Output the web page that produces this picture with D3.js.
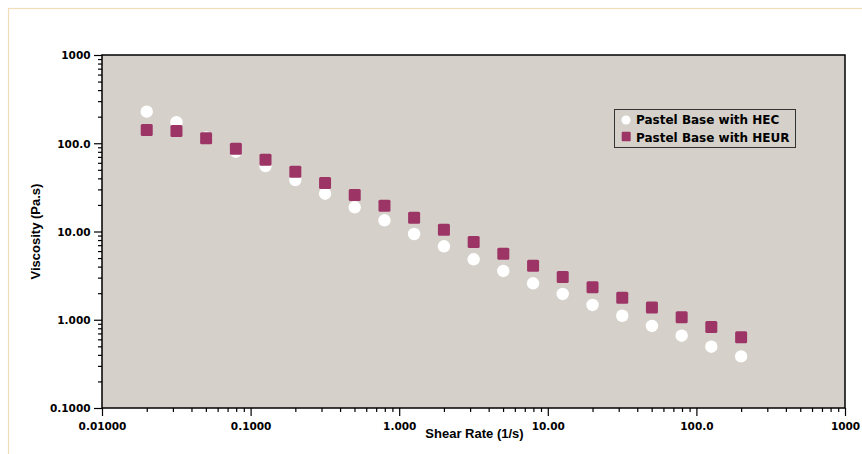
<!DOCTYPE html>
<html>
<head>
<meta charset="utf-8">
<script src="https://cdn.jsdelivr.net/npm/d3@7/dist/d3.min.js"></script>
<style>
  html, body { margin: 0; padding: 0; background: #ffffff; }
  svg { display: block; }
</style>
</head>
<body>
<svg id="chart" width="862" height="454"></svg>
<script>
// ---- data ----
const shearRate = [0.0200, 0.0317, 0.0502, 0.0796, 0.126, 0.200, 0.317, 0.502, 0.796, 1.26, 2.00,
                   3.17, 5.02, 7.96, 12.6, 20.0, 31.7, 50.2, 79.6, 126, 200];
const viscosityHEC = [228, 173, 116, 80.2, 55.2, 38.3, 26.8, 18.8, 13.4, 9.37, 6.80,
                      4.84, 3.57, 2.59, 1.96, 1.47, 1.11, 0.850, 0.659, 0.495, 0.385];
const viscosityHEUR = [141, 138, 114, 86.8, 65.1, 47.6, 35.5, 25.9, 19.6, 14.3, 10.5,
                       7.60, 5.60, 4.10, 3.05, 2.33, 1.78, 1.38, 1.07, 0.828, 0.632];
const seriesNames = ["Pastel Base with HEC", "Pastel Base with HEUR"];
const xTickValues = [0.01, 0.1, 1, 10, 100, 1000];
const xTickLabels = ["0.01000", "0.1000", "1.000", "10.00", "100.0", "1000"];
const yTickValues = [0.1, 1, 10, 100, 1000];
const yTickLabels = ["0.1000", "1.000", "10.00", "100.0", "1000"];
const xTitle = "Shear Rate (1/s)";
const yTitle = "Viscosity (Pa.s)";

// ---- layout ----
const svg = d3.select("#chart");
const pLeft = 102, pRight = 845, pTop = 55, pBottom = 408;
const x = d3.scaleLog().domain([0.01, 1000]).range([pLeft, pRight]);
const y = d3.scaleLog().domain([0.1, 1000]).range([pBottom, pTop]);

const plotBg = "#d5d1ca";
const heurColor = "#9c3466";
const tickFont = "'DejaVu Sans', Verdana, sans-serif";
const titleFont = "'Liberation Sans', Arial, Helvetica, sans-serif";

// outer frame
svg.append("rect")
  .attr("x", 8.5).attr("y", 8.5).attr("width", 900).attr("height", 500)
  .attr("fill", "none").attr("stroke", "#f3dcb8").attr("stroke-width", 1.2);

// plot background
svg.append("rect")
  .attr("x", pLeft).attr("y", pTop).attr("width", pRight - pLeft).attr("height", pBottom - pTop)
  .attr("fill", plotBg);

// minor ticks
function minorTicks(lo, hi) {
  const out = [];
  for (let e = Math.round(Math.log10(lo)); e < Math.round(Math.log10(hi)); e++) {
    for (let m = 2; m <= 9; m++) out.push(m * Math.pow(10, e));
  }
  return out;
}

const xMinor = svg.append("g").attr("transform", `translate(0,${pBottom})`)
  .call(d3.axisBottom(x).tickValues(minorTicks(0.01, 1000)).tickSize(4).tickFormat(""));
const xMajor = svg.append("g").attr("transform", `translate(0,${pBottom})`)
  .call(d3.axisBottom(x).tickValues(xTickValues).tickSize(8)
    .tickFormat((d, i) => xTickLabels[i]));
const yMinor = svg.append("g").attr("transform", `translate(${pLeft},0)`)
  .call(d3.axisLeft(y).tickValues(minorTicks(0.1, 1000)).tickSize(4).tickFormat(""));
const yMajor = svg.append("g").attr("transform", `translate(${pLeft},0)`)
  .call(d3.axisLeft(y).tickValues(yTickValues).tickSize(8)
    .tickFormat((d, i) => yTickLabels[i]));

[xMinor, xMajor, yMinor, yMajor].forEach(g => {
  g.select(".domain").remove();
  g.selectAll(".tick line").attr("stroke", "#000").attr("stroke-width", 1.2);
});

xMajor.selectAll(".tick text")
  .attr("y", 22).attr("dy", 0)
  .attr("fill", "#000")
  .style("font-family", tickFont).style("font-weight", "bold").style("font-size", "10.5px");
yMajor.selectAll(".tick text")
  .attr("x", -11.5).attr("dy", "0.37em")
  .attr("fill", "#000")
  .style("font-family", tickFont).style("font-weight", "bold").style("font-size", "10.5px");

// plot border
svg.append("rect")
  .attr("x", pLeft).attr("y", pTop).attr("width", pRight - pLeft).attr("height", pBottom - pTop)
  .attr("fill", "none").attr("stroke", "#000").attr("stroke-width", 1.5);

// data: circles (HEC) then squares (HEUR) on top
const pts = shearRate.map((s, i) => ({ s, hec: viscosityHEC[i], heur: viscosityHEUR[i] }));
svg.append("g").selectAll("circle").data(pts).join("circle")
  .attr("cx", d => x(d.s)).attr("cy", d => y(d.hec)).attr("r", 6.2)
  .attr("fill", "#ffffff");
const sq = 12;
svg.append("g").selectAll("rect").data(pts).join("rect")
  .attr("x", d => x(d.s) - sq / 2).attr("y", d => y(d.heur) - sq / 2)
  .attr("width", sq).attr("height", sq).attr("rx", 1.5)
  .attr("fill", heurColor);

// axis titles
svg.append("text")
  .attr("x", (pLeft + pRight) / 2 + 1).attr("y", 438)
  .attr("text-anchor", "middle")
  .style("font-family", titleFont).style("font-weight", "bold").style("font-size", "13px")
  .text(xTitle);
svg.append("text")
  .attr("transform", `translate(40,${(pTop + pBottom) / 2}) rotate(-90)`)
  .attr("text-anchor", "middle")
  .style("font-family", titleFont).style("font-weight", "bold").style("font-size", "13px")
  .text(yTitle);

// legend
const lg = svg.append("g");
lg.append("rect")
  .attr("x", 614.5).attr("y", 109.5).attr("width", 181).attr("height", 38)
  .attr("fill", plotBg).attr("stroke", "#333").attr("stroke-width", 1);
lg.append("circle").attr("cx", 626).attr("cy", 120).attr("r", 4.6).attr("fill", "#fff");
lg.append("rect").attr("x", 621.7).attr("y", 131.8).attr("width", 9).attr("height", 9.5)
  .attr("rx", 1).attr("fill", heurColor);
lg.selectAll("text.lab").data(seriesNames).join("text")
  .attr("class", "lab")
  .attr("x", 636).attr("y", (d, i) => 124 + i * 17.5)
  .style("font-family", tickFont).style("font-weight", "bold").style("font-size", "12px")
  .attr("fill", "#000")
  .text(d => d);
</script>
</body>
</html>
